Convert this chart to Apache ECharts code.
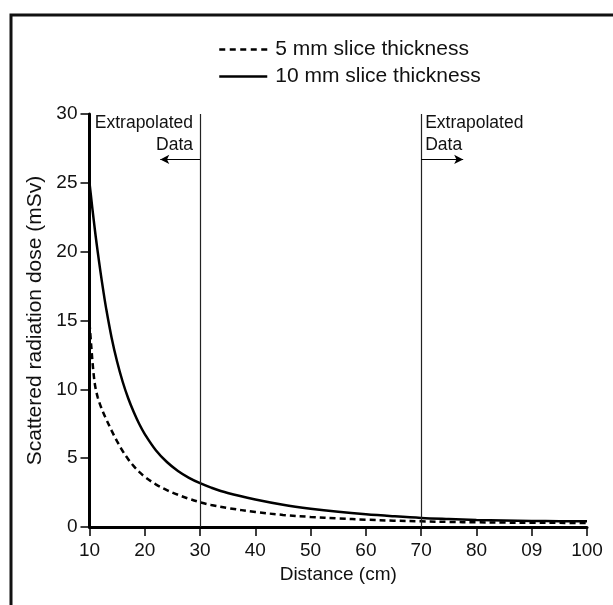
<!DOCTYPE html>
<html>
<head>
<meta charset="utf-8">
<script src="https://cdn.jsdelivr.net/npm/echarts@6/dist/echarts.min.js"></script>
<style>
html,body{margin:0;padding:0;background:#fff;}
#c{width:613px;height:605px;}
</style>
</head>
<body>
<div id="c"></div>
<script>
// ---- data ----
const distances = [10, 10.25, 10.5, 10.75, 11, 11.25, 11.5, 12, 12.5, 13, 14, 15, 16, 17, 18, 19, 20, 22, 24, 26, 28, 30, 32, 35, 40, 45, 50, 55, 60, 65, 70, 75, 80, 85, 90, 95, 100];
const dose10mm = [25, 24.1, 23.2, 22.35, 21.5, 20.7, 19.95, 18.5, 17.15, 15.9, 13.75, 12.0, 10.55, 9.35, 8.35, 7.48, 6.75, 5.58, 4.72, 4.07, 3.57, 3.18, 2.86, 2.47, 2.0, 1.62, 1.33, 1.1, 0.92, 0.78, 0.66, 0.58, 0.51, 0.47, 0.44, 0.42, 0.41];
const dose5mm = [14.8, 13.5, 12.2, 11.1, 10.3, 9.8, 9.4, 8.8, 8.3, 7.85, 7.0, 6.22, 5.52, 4.92, 4.42, 4.0, 3.64, 3.1, 2.68, 2.34, 2.05, 1.8, 1.6, 1.38, 1.09, 0.88, 0.73, 0.62, 0.53, 0.46, 0.41, 0.37, 0.34, 0.32, 0.31, 0.3, 0.29];
const xTickLabels = ['10', '20', '30', '40', '50', '60', '70', '80', '09', '100'];
const seriesNames = ['5 mm slice thickness', '10 mm slice thickness'];
const boundaryLines = [30, 70];
const arrowY = 26.7;
const arrowLeft = [30, 22.8];
const arrowRight = [70, 77.6];
const annotationText = ['Extrapolated', 'Data'];

const FONT = '"Liberation Sans", Arial, Helvetica, sans-serif';
const chart = echarts.init(document.getElementById('c'), null, {renderer: 'canvas'});

function pairs(xs, ys) { return xs.map((x, i) => [x, ys[i]]); }

const option = {
  animation: false,
  backgroundColor: '#fff',
  textStyle: {fontFamily: FONT},
  grid: {left: 89.5, right: 26, top: 114, bottom: 78, containLabel: false},
  legend: {
    orient: 'vertical',
    left: 213, top: 34,
    itemWidth: 48, itemHeight: 14, itemGap: 6,
    itemStyle: {opacity: 0, borderWidth: 0},
    textStyle: {fontFamily: FONT, fontSize: 21, color: '#111', padding: [0, 0, 0, 3]},
    data: [
      {name: seriesNames[0], lineStyle: {color: '#000', width: 2.5, type: [6, 4.5]}},
      {name: seriesNames[1], lineStyle: {color: '#000', width: 2.5, type: 'solid'}}
    ]
  },
  xAxis: {
    type: 'value', min: 10, max: 100, interval: 10,
    name: 'Distance (cm)', nameLocation: 'middle', nameGap: 38,
    nameTextStyle: {fontFamily: FONT, fontSize: 19, color: '#111'},
    axisLine: {show: true, onZero: false, lineStyle: {color: '#000', width: 3}},
    axisTick: {show: true, length: 9, lineStyle: {color: '#000', width: 1.5}},
    axisLabel: {fontFamily: FONT, fontSize: 19, color: '#111', margin: 14,
      formatter: function (v) { const i = Math.round((v - 10) / 10); return xTickLabels[i] || ''; }},
    splitLine: {show: false}
  },
  yAxis: {
    type: 'value', min: 0, max: 30, interval: 5,
    name: 'Scattered radiation dose (mSv)', nameLocation: 'middle', nameGap: 41,
    nameTextStyle: {fontFamily: FONT, fontSize: 21, color: '#111'},
    axisLine: {show: true, onZero: false, lineStyle: {color: '#000', width: 3}},
    axisTick: {show: true, length: 9, lineStyle: {color: '#000', width: 1.5}},
    axisLabel: {fontFamily: FONT, fontSize: 19, color: '#111', margin: 12},
    splitLine: {show: false}
  },
  series: [
    {
      name: seriesNames[0], type: 'line', data: pairs(distances, dose5mm),
      showSymbol: false, symbol: 'none', smooth: 0.35,
      lineStyle: {color: '#000', width: 2.5, type: [6, 4]},
      itemStyle: {color: '#000'}, z: 3
    },
    {
      name: seriesNames[1], type: 'line', data: pairs(distances, dose10mm),
      showSymbol: false, symbol: 'none', smooth: 0.35,
      lineStyle: {color: '#000', width: 2.5},
      itemStyle: {color: '#000'}, z: 3,
      markLine: {
        silent: true, symbol: ['none', 'none'], animation: false,
        label: {show: false},
        lineStyle: {color: '#222', width: 1.2, type: 'solid'},
        data: boundaryLines.map(v => ({xAxis: v}))
      }
    },
    {
      name: 'arrows', type: 'line', data: [], silent: true,
      markLine: {
        silent: true, symbol: ['none', 'arrow'], symbolSize: [7, 9], animation: false,
        label: {show: false},
        lineStyle: {color: '#000', width: 1.2, type: 'solid'},
        data: [
          [{coord: [arrowLeft[0], arrowY]}, {coord: [arrowLeft[1], arrowY]}],
          [{coord: [arrowRight[0], arrowY]}, {coord: [arrowRight[1], arrowY]}]
        ]
      }
    }
  ]
};
chart.setOption(option);

// annotations positioned through the chart's own scales
const pL = chart.convertToPixel({gridIndex: 0}, [boundaryLines[0], 30]);
const pR = chart.convertToPixel({gridIndex: 0}, [boundaryLines[1], 30]);
chart.setOption({
  graphic: [
    {type: 'rect', shape: {x: 11, y: 15, width: 700, height: 700},
     style: {fill: null, stroke: '#111', lineWidth: 3}, z: 0, silent: true},
    {type: 'text', x: pL[0] - 7, y: pL[1] - 2,
     style: {text: annotationText[0] + '\n' + annotationText[1], align: 'right', verticalAlign: 'top',
       font: '17.5px ' + FONT, fill: '#111', lineHeight: 22}},
    {type: 'text', x: pR[0] + 4, y: pR[1] - 2,
     style: {text: annotationText[0] + '\n' + annotationText[1], align: 'left', verticalAlign: 'top',
       font: '17.5px ' + FONT, fill: '#111', lineHeight: 22}}
  ]
});
</script>
</body>
</html>
